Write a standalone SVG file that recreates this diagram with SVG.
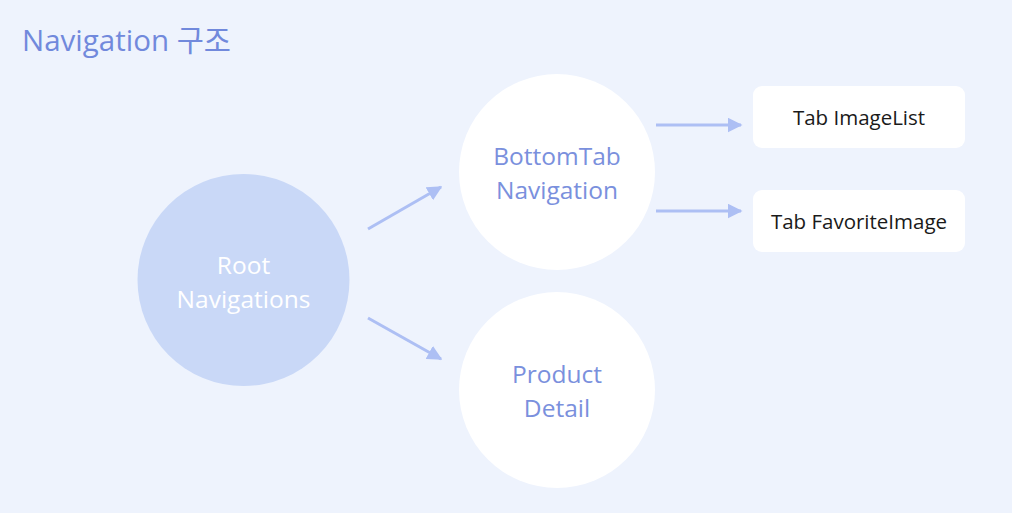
<svg xmlns="http://www.w3.org/2000/svg" width="1012" height="513" viewBox="0 0 1012 513">
<style>
.title{font-family:"Open Sans","Noto Sans CJK KR",sans-serif;font-size:29.5px;fill:#7189dc}
.ct{font-family:"Open Sans","Noto Sans",sans-serif;font-size:24.5px;text-anchor:middle}
.bt{font-family:"Open Sans","Noto Sans",sans-serif;font-size:20.5px;text-anchor:middle;fill:#1a1a1a}
.conn{stroke:#adbff4;stroke-width:3;fill:none;marker-end:url(#ah)}
.box{fill:#ffffff}
</style>
<defs>
<marker id="ah" viewBox="0 0 10 10" refX="9" refY="5" markerWidth="5" markerHeight="5" orient="auto" markerUnits="strokeWidth">
<path d="M0,0 L10,5 L0,10 z" fill="#adbff4"/>
</marker>
</defs>
<rect width="1012" height="513" fill="#eef3fd"/>
<text class="title" x="22" y="51">Navigation 구조</text>
<g id="connectors">
<line class="conn" x1="368" y1="229" x2="441" y2="187"/>
<line class="conn" x1="368" y1="318" x2="441" y2="359"/>
<line class="conn" x1="656" y1="125" x2="741" y2="125"/>
<line class="conn" x1="656" y1="211" x2="741" y2="211"/>
</g>
<g id="root">
<circle cx="243.5" cy="280" r="106" fill="#c9d8f7"/>
<text class="ct" x="243.5" y="274" fill="#ffffff">Root</text>
<text class="ct" x="243.5" y="308" fill="#ffffff">Navigations</text>
</g>
<g id="bottomtab">
<circle cx="557" cy="172" r="98" fill="#ffffff"/>
<text class="ct" x="557" y="165" fill="#7a90dd">BottomTab</text>
<text class="ct" x="557" y="199" fill="#7a90dd">Navigation</text>
</g>
<g id="product">
<circle cx="557" cy="390" r="98" fill="#ffffff"/>
<text class="ct" x="557" y="383" fill="#7a90dd">Product</text>
<text class="ct" x="557" y="417" fill="#7a90dd">Detail</text>
</g>
<g id="tab-imagelist">
<rect class="box" x="753" y="86" width="212" height="62" rx="9"/>
<text class="bt" x="859" y="125">Tab ImageList</text>
</g>
<g id="tab-favoriteimage">
<rect class="box" x="753" y="190" width="212" height="62" rx="9"/>
<text class="bt" x="859" y="229">Tab FavoriteImage</text>
</g>
</svg>
